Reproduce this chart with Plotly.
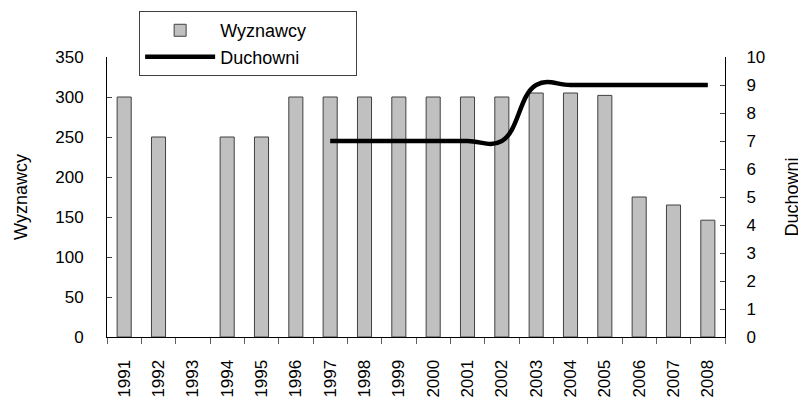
import plotly.graph_objects as go
from plotly.subplots import make_subplots

years = [str(y) for y in range(1991, 2009)]
wyznawcy = [300, 250, None, 250, 250, 300, 300, 300, 300, 300, 300, 300, 305, 305, 302, 175, 165, 146]
duchowni_years = [str(y) for y in range(1997, 2009)]
duchowni = [7, 7, 7, 7, 7, 7, 9, 9, 9, 9, 9, 9]

fig = make_subplots(specs=[[{"secondary_y": True}]])

fig.add_trace(
    go.Bar(x=years, y=wyznawcy, name="Wyznawcy" + "\u00a0" * 9,
           marker=dict(color="#C0C0C0", line=dict(color="#404040", width=1))),
    secondary_y=False
)
fig.add_trace(
    go.Scatter(x=duchowni_years, y=duchowni, name="Duchowni", mode="lines",
               line=dict(color="black", width=4.5, shape="spline", smoothing=1.2)),
    secondary_y=True
)

# the page body has an 8px margin, so the figure is 8px smaller than the window
fig.update_layout(
    width=798, height=392,
    margin=dict(l=99, r=81, t=49, b=63, autoexpand=False),
    bargap=0.59,
    plot_bgcolor="white",
    paper_bgcolor="white",
    font=dict(family="Liberation Sans, Arial, sans-serif", size=17, color="black"),
    showlegend=True,
    legend=dict(x=0.052, y=1.164, xanchor="left", yanchor="top",
                bordercolor="#404040", borderwidth=1, bgcolor="white",
                font=dict(size=18), itemwidth=70, tracegroupgap=0),
)

fig.update_xaxes(domain=[0, 1], showgrid=False, showline=True, linecolor="black", linewidth=1,
                 ticks="outside", tickson="boundaries", ticklen=6, tickcolor="#606060",
                 tickangle=-90, type="category", automargin=False, ticklabelstandoff=15)
fig.update_yaxes(range=[0, 350], dtick=50, showgrid=False, showline=True, linecolor="black",
                 ticks="inside", ticklen=5, tickcolor="#404040", zeroline=False,
                 automargin=False, ticklabelstandoff=19,
                 title=dict(text="Wyznawcy", font=dict(size=18), standoff=22), secondary_y=False)
fig.update_yaxes(range=[0, 10], dtick=1, showgrid=False, showline=True, linecolor="black",
                 ticks="inside", ticklen=5, tickcolor="#404040", zeroline=False,
                 automargin=False, ticklabelstandoff=17,
                 title=dict(text="Duchowni", font=dict(size=18), standoff=21), secondary_y=True)

fig.write_html("out.html")
